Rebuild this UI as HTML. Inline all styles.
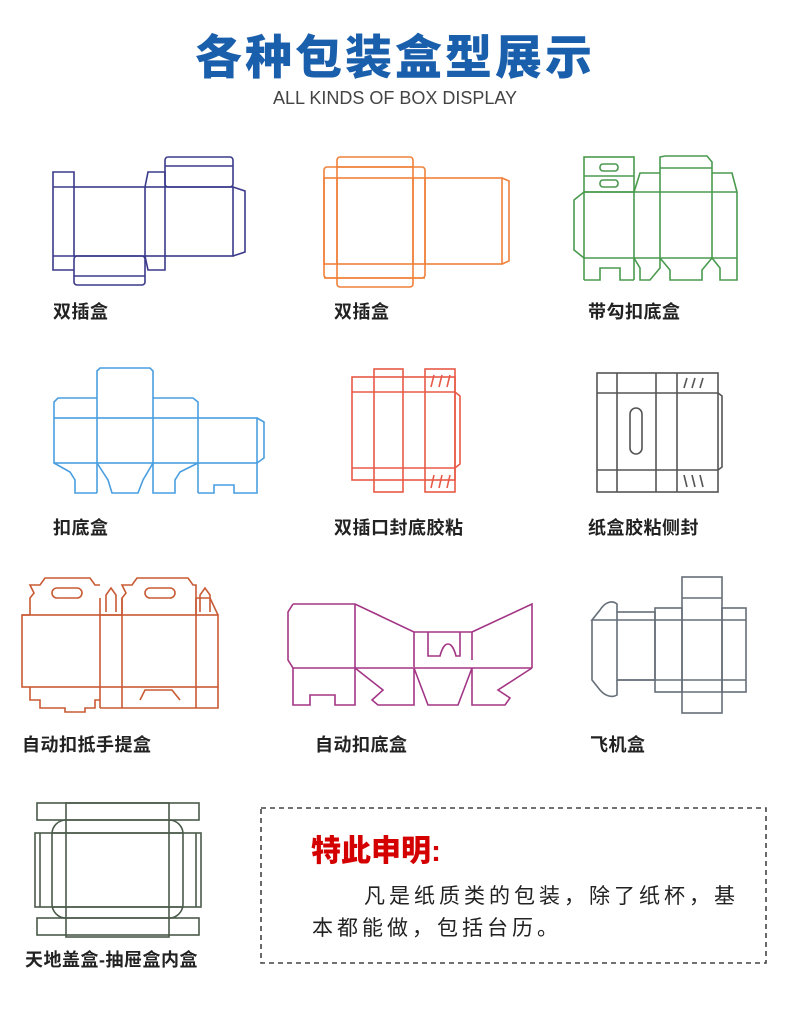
<!DOCTYPE html>
<html><head><meta charset="utf-8"><style>
body{margin:0;width:790px;height:1028px;background:#fff;position:relative;overflow:hidden;font-family:"Liberation Sans","Noto Sans CJK SC",sans-serif}
.t{position:absolute;left:0;width:790px;text-align:center}
.l{position:absolute;font-size:18px;color:#222;font-weight:bold;letter-spacing:0.5px}
svg{position:absolute;left:0;top:0}
svg *{fill:none;stroke-width:1.6}
</style></head><body>
<div class="t" style="top:19px;font-size:47px;font-weight:900;color:#1a5fac;letter-spacing:3px">各种包装盒型展示</div>
<div class="t" style="top:88px;font-size:18px;color:#444">ALL KINDS OF BOX DISPLAY</div>
<svg width="790" height="1028">
<g stroke="#3b3a8a">
<rect x="74" y="187" width="159" height="69"/><rect x="165" y="157" width="68" height="30" rx="3"/><line x1="165" y1="166" x2="233" y2="166"/>
<rect x="74" y="256" width="71" height="29" rx="3"/><line x1="74" y1="276" x2="145" y2="276"/>
<path d="M74 187 L74 172 L53 172 L53 270 L74 270 M145 187 L148 172 L165 172 L165 187 M145 256 L148 270 L165 270 L165 256 M53 187 H74 M53 256 H74"/>
<line x1="145" y1="187" x2="145" y2="256"/><line x1="165" y1="187" x2="165" y2="256"/>
<path d="M233 187 L245 191 L245 252 L233 256"/>
</g>
<g stroke="#f0803a">
<rect x="337" y="157" width="76" height="130" rx="3"/><rect x="324" y="167" width="101" height="111" rx="3"/>
<rect x="324" y="178" width="178" height="86"/><line x1="337" y1="178" x2="337" y2="264"/><line x1="413" y1="178" x2="413" y2="264"/><line x1="425" y1="178" x2="425" y2="264"/>
<path d="M502 178 L509 181 L509 261 L502 264"/><line x1="337" y1="167" x2="413" y2="167"/><line x1="324" y1="278" x2="425" y2="278"/>
</g>
<g stroke="#4a9a4e">
<rect x="584" y="157" width="50" height="35"/><line x1="584" y1="176" x2="634" y2="176"/>
<rect x="600" y="164" width="18" height="7" rx="3"/><rect x="600" y="180" width="18" height="7" rx="3"/>
<path d="M584 192 L574 200 L574 250 L584 258 M584 192 H737 M584 258 H737 M634 192 L640 173 L660 173 L660 192 M660 192 V157 L665 156 L707 156 L712 162 V192 M712 192 V173 L732 173 L737 192 V258"/>
<line x1="584" y1="192" x2="584" y2="280"/><line x1="634" y1="192" x2="634" y2="280"/><line x1="660" y1="192" x2="660" y2="258"/><line x1="712" y1="192" x2="712" y2="258"/><line x1="660" y1="168" x2="712" y2="168"/>
<path d="M584 280 H600 V268 H620 V280 H634 M634 258 L640 268 V280 H650 L660 268 V258 M660 258 L670 270 V280 H702 V270 L712 258 M712 258 L720 268 V280 H737 V258"/>
</g>
<g stroke="#4a9ee0">
<rect x="54" y="418" width="203" height="45"/><path d="M97 418 V371 L100 368 H150 L153 371 V418 M54 418 V402 L58 398 H97 M153 398 H193 L198 402 V418 M257 418 L264 422 V458 L257 463"/>
<line x1="97" y1="418" x2="97" y2="493"/><line x1="153" y1="418" x2="153" y2="463"/><line x1="198" y1="418" x2="198" y2="493"/>
<path d="M54 463 L70 472 L75 480 L75 493 H97 M97 463 L108 480 L112 493 H138 L143 480 L153 463 M153 463 V493 H175 V480 L180 472 L198 463 M198 493 H214 V485 H234 V493 H257 V463"/>
</g>
<g stroke="#e85a48">
<rect x="352" y="377" width="103" height="103"/><rect x="374" y="369" width="29" height="123"/><rect x="425" y="369" width="30" height="123"/>
<line x1="352" y1="392" x2="455" y2="392"/><line x1="352" y1="468" x2="455" y2="468"/>
<path d="M455 392 L460 396 V464 L455 468"/>
<path d="M431 387 L434 375 M439 387 L442 375 M447 387 L450 375 M431 488 L434 475 M439 488 L442 475 M447 488 L450 475" stroke-width="1"/>
</g>
<g stroke="#555">
<rect x="597" y="373" width="121" height="119"/><line x1="617" y1="373" x2="617" y2="492"/><line x1="656" y1="373" x2="656" y2="492"/><line x1="677" y1="373" x2="677" y2="492"/>
<line x1="597" y1="393" x2="718" y2="393"/><line x1="597" y1="470" x2="718" y2="470"/>
<path d="M718 393 L722 396 V467 L718 470"/><rect x="630" y="408" width="12" height="46" rx="6"/>
<path d="M684 388 L687 378 M692 388 L695 378 M700 388 L703 378 M684 475 L687 487 M692 475 L695 487 M700 475 L703 487" stroke-width="1"/>
</g>
<g stroke="#c85a34">
<rect x="22" y="615" width="196" height="72"/><line x1="100" y1="598" x2="100" y2="708"/><line x1="122" y1="598" x2="122" y2="708"/><line x1="196" y1="598" x2="196" y2="708"/>
<path d="M30 615 V598 L34 593 L30 585 H40 L45 578 H90 L95 585 H100 M122 615 V598 L126 593 L122 585 H132 L137 578 H188 L193 585 H196 V615 M22 615 H30 M100 615 H122 M196 598 H210 L218 615"/>
<rect x="52" y="588" width="30" height="10" rx="5"/><rect x="145" y="588" width="30" height="10" rx="5"/>
<path d="M106 612 V595 L111 588 L116 595 V612 M200 612 V595 L205 588 L210 595 V612" stroke-width="1.2"/>
<path d="M30 687 V700 H40 V708 H65 V712 H85 V708 H95 V700 H100 M100 708 H218 V687 M140 700 L145 690 H172 L180 700 M152 690 H165"/>
</g>
<g stroke="#a33585">
<path d="M293 604 H355 L414 632 V667 M293 604 L288 612 V660 L293 668 V705 H310 V695 H335 V705 H355 V668 M293 668 H532 M355 604 V668 M414 632 H472 V660 M472 632 L532 604 V668 M428 632 V656 H440 C444 640 452 640 456 656 H460 V632"/>
<path d="M355 668 L383 690 L372 700 L378 705 H414 V668 M414 668 L428 705 H458 L472 668 M472 668 V705 H505 L510 698 L498 690 L532 668"/>
</g>
<g stroke="#666e78">
<rect x="617" y="612" width="38" height="68"/><rect x="655" y="608" width="27" height="84"/><rect x="682" y="577" width="40" height="136"/><rect x="722" y="608" width="24" height="84"/>
<line x1="617" y1="620" x2="746" y2="620"/><line x1="617" y1="680" x2="746" y2="680"/><line x1="682" y1="598" x2="722" y2="598"/><line x1="682" y1="692" x2="722" y2="692"/>
<path d="M617 620 H592 L600 610 C605 602 612 600 617 604 V612 M592 620 V680 L600 690 C605 696 612 698 617 695 V680"/>
</g>
<g stroke="#4a5a4a">
<rect x="37" y="803" width="162" height="17"/><rect x="37" y="918" width="162" height="17"/><rect x="66" y="803" width="103" height="134"/>
<rect x="35" y="833" width="166" height="74"/><rect x="52" y="820" width="131" height="98" rx="14"/>
<line x1="40" y1="833" x2="40" y2="907"/><line x1="196" y1="833" x2="196" y2="907"/><line x1="52" y1="833" x2="183" y2="833"/><line x1="52" y1="907" x2="183" y2="907"/>
</g>
<rect x="261" y="808" width="505" height="155" stroke="#444" stroke-dasharray="5,4" stroke-width="1.5"/>
</svg>
<div class="l" style="left:53px;top:298px">双插盒</div>
<div class="l" style="left:334px;top:298px">双插盒</div>
<div class="l" style="left:588px;top:298px">带勾扣底盒</div>
<div class="l" style="left:53px;top:514px">扣底盒</div>
<div class="l" style="left:334px;top:514px">双插口封底胶粘</div>
<div class="l" style="left:588px;top:514px">纸盒胶粘侧封</div>
<div class="l" style="left:22px;top:731px">自动扣抵手提盒</div>
<div class="l" style="left:315px;top:731px">自动扣底盒</div>
<div class="l" style="left:590px;top:731px">飞机盒</div>
<div class="l" style="left:25px;top:946px">天地盖盒-抽屉盒内盒</div>
<div style="position:absolute;left:311px;top:826px;font-size:30px;font-weight:900;color:#d40000">特此申明:</div>
<div style="position:absolute;left:312px;top:881px;font-size:21px;line-height:32px;color:#222;letter-spacing:4px;white-space:nowrap">
<div style="padding-left:52px">凡是纸质类的包装，除了纸杯，基</div><div>本都能做，包括台历。</div></div>
</body></html>
